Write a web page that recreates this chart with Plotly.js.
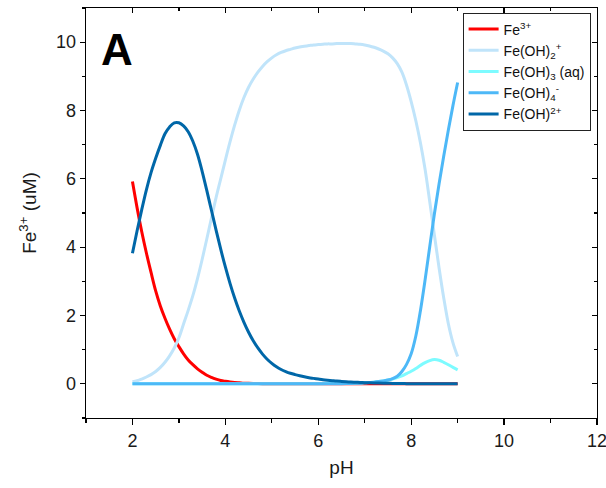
<!DOCTYPE html>
<html><head><meta charset="utf-8">
<script src="https://cdn.plot.ly/plotly-3.0.1.min.js"></script>
<style>body{margin:0;background:#fff}#c{width:606px;height:488px}</style>
</head><body><div id="c"></div>
<script>
const pH = [2.0,2.1,2.2,2.3,2.4,2.5,2.6,2.7,2.8,2.9,
  3.0,3.1,3.2,3.3,3.4,3.5,3.6,3.7,3.8,3.9,
  4.0,4.1,4.2,4.3,4.4,4.5,4.6,4.7,4.8,4.9,
  5.0,5.1,5.2,5.3,5.4,5.5,5.6,5.7,5.8,5.9,
  6.0,6.1,6.2,6.3,6.4,6.5,6.6,6.7,6.8,6.9,
  7.0,7.1,7.2,7.3,7.4,7.5,7.6,7.7,7.8,7.9,
  8.0,8.1,8.2,8.3,8.4,8.5,8.6,8.7,8.8,8.9,9.0];

const fe3 = [5.92,5.15,4.45,3.83,3.26,2.72,2.28,1.92,1.60,1.32,
  1.09,0.88,0.70,0.56,0.44,0.34,0.25,0.19,0.14,0.10,
  0.075,0.055,0.04,0.03,0.02,0.015,0.01,0.007,0.005,0.003,
  0.002,0.001,0,0,0,0,0,0,0,0,
  0,0,0,0,0,0,0,0,0,0,
  0,0,0,0,0,0,0,0,0,0,
  0,0,0,0,0,0,0,0,0,0,0];

const feOH2p = [0.06,0.09,0.14,0.20,0.27,0.36,0.48,0.63,0.82,1.05,
  1.35,1.75,2.15,2.58,3.08,3.64,4.24,4.85,5.45,6.00,
  6.55,7.08,7.57,8.01,8.38,8.68,8.92,9.12,9.29,9.43,
  9.54,9.63,9.70,9.75,9.79,9.83,9.86,9.88,9.90,9.92,
  9.93,9.94,9.95,9.95,9.96,9.96,9.96,9.96,9.95,9.94,
  9.92,9.89,9.85,9.80,9.74,9.66,9.54,9.37,9.12,8.74,
  8.26,7.70,7.05,6.27,5.33,4.35,3.40,2.52,1.76,1.20,0.80];

const feOH3 = [0,0,0,0,0,0,0,0,0,0,
  0,0,0,0,0,0,0,0,0,0,
  0,0,0,0,0,0,0,0,0,0,
  0,0,0,0,0,0.001,0.001,0.002,0.003,0.004,
  0.005,0.006,0.007,0.008,0.01,0.012,0.014,0.017,0.02,0.025,
  0.03,0.04,0.05,0.065,0.085,0.11,0.14,0.18,0.23,0.30,
  0.37,0.45,0.54,0.62,0.68,0.71,0.69,0.63,0.56,0.48,0.41];

const feOH4 = [0,0,0,0,0,0,0,0,0,0,
  0,0,0,0,0,0,0,0,0,0,
  0,0,0,0,0,0,0,0,0,0,
  0,0,0,0,0,0,0,0,0,0,
  0.001,0.001,0.002,0.003,0.004,0.005,0.007,0.01,0.015,0.02,
  0.03,0.04,0.05,0.065,0.085,0.11,0.15,0.22,0.36,0.57,
  0.88,1.40,2.15,3.05,4.02,4.98,5.85,6.66,7.43,8.15,8.82];

const feOH2 = [3.82,4.48,5.10,5.68,6.18,6.60,6.98,7.32,7.52,7.64,
  7.64,7.55,7.38,7.10,6.72,6.22,5.66,5.08,4.50,3.94,
  3.42,2.94,2.51,2.13,1.80,1.51,1.26,1.05,0.87,0.72,
  0.60,0.50,0.42,0.36,0.31,0.27,0.235,0.205,0.18,0.16,
  0.14,0.12,0.105,0.092,0.08,0.07,0.061,0.053,0.046,0.04,
  0.035,0.03,0.025,0.021,0.018,0.015,0.012,0.01,0.008,0.006,
  0.005,0.004,0.003,0.003,0.002,0.002,0.001,0.001,0.001,0,0];

const names = ['Fe<sup>3+</sup>','Fe(OH)<sub>2</sub><sup>+</sup>','Fe(OH)<sub>3</sub> (aq)','Fe(OH)<sub>4</sub><sup>-</sup>','Fe(OH)<sup>2+</sup>'];
const series = [fe3, feOH2p, feOH3, feOH4, feOH2];
const colors = ['#FF0000','#C0E4FA','#7DFBFF','#4DB8F7','#0067A8'];

const traces = series.map((s,i)=>({
  x: pH, y: s, type:'scatter', mode:'lines', name: names[i],
  line:{color:colors[i], width:3, shape:'spline', smoothing:1}
}));

const FONT = 'Liberation Sans, Arial';
const axBase = {showgrid:false, zeroline:false, showline:true, linecolor:'#000', linewidth:1.3,
  tickcolor:'#000', tickwidth:1.3, ticklabeloverflow:'allow',
  tickfont:{family:FONT, size:18, color:'#1a1a1a'}};

const layout = {
  width:606, height:488, margin:{l:86, r:9, t:8, b:70},
  paper_bgcolor:'#fff', plot_bgcolor:'#fff',
  font:{family:FONT, color:'#1a1a1a'},
  xaxis: Object.assign({}, axBase, {range:[1,12], dtick:2, tick0:0, ticks:'outside', ticklen:6,
    minor:{dtick:1, tick0:1, ticks:'outside', ticklen:4, tickcolor:'#000', tickwidth:1.3},
    title:{text:'pH', font:{family:FONT, size:19, color:'#1a1a1a'}, standoff:10}}),
  yaxis: Object.assign({}, axBase, {range:[-1,11], dtick:2, tick0:0, ticks:'outside', ticklen:5,
    minor:{dtick:1, tick0:1, ticks:'outside', ticklen:3, tickcolor:'#000', tickwidth:1.3},
    title:{text:'Fe<sup>3+</sup> (uM)', font:{family:FONT, size:19, color:'#1a1a1a'}, standoff:14}}),
  xaxis2: Object.assign({}, axBase, {overlaying:'x', side:'top', range:[1,12], dtick:2, tick0:0,
    ticks:'inside', ticklen:5, showticklabels:false,
    minor:{dtick:1, tick0:1, ticks:'inside', ticklen:3, tickcolor:'#000', tickwidth:1.3}}),
  yaxis2: Object.assign({}, axBase, {overlaying:'y', side:'right', range:[-1,11], dtick:2, tick0:0,
    ticks:'inside', ticklen:5, showticklabels:false,
    minor:{dtick:1, tick0:1, ticks:'inside', ticklen:3, tickcolor:'#000', tickwidth:1.3}}),
  showlegend:true,
  legend:{x:0.737, y:0.989, xanchor:'left', yanchor:'top', bordercolor:'#222', borderwidth:1,
    bgcolor:'#fff', font:{family:FONT, size:14, color:'#111'}, tracegroupgap:0, itemwidth:30},
  annotations:[{text:'<b>A</b>', x:1.67, y:9.8, xref:'x', yref:'y', showarrow:false,
    font:{family:FONT, size:44, color:'#000'}}]
};

traces.push({x:[1,12], y:[-1,11], xaxis:'x2', yaxis:'y2', mode:'markers', marker:{opacity:0}, showlegend:false, hoverinfo:'skip'});

Plotly.newPlot('c', traces, layout, {staticPlot:true});
</script></body></html>
